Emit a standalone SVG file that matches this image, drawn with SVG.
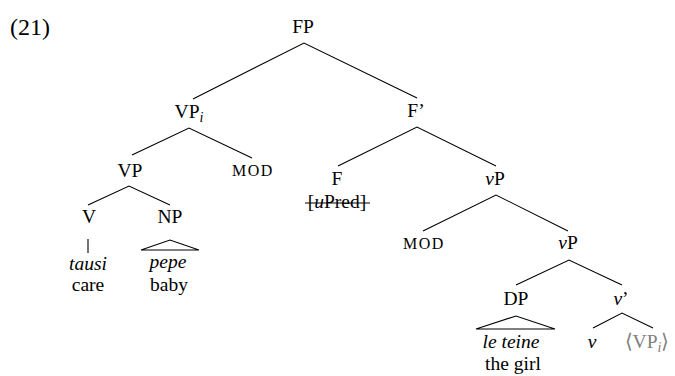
<svg xmlns="http://www.w3.org/2000/svg" width="675" height="376" viewBox="0 0 675 376">
  <style>
    text { font-family: "Liberation Serif", "Times New Roman", serif; font-size: 19.5px; fill: #000; text-anchor: middle; }
    .it { font-style: italic; }
    .sub { font-size: 14px; font-style: italic; }
    .sc { font-size: 16px; letter-spacing: 1.5px; }
    .trace { fill: #808080; }
    .edge { stroke: #000; stroke-width: 1.1; fill: none; }
  </style>

  <text x="10" y="35" style="text-anchor:start;font-size:24px">(21)</text>

  <!-- branches -->
  <g id="edges">
    <path class="edge" d="M193,99 L304,43 L417,98"/>
    <path class="edge" d="M132,155 L189,128 L252,158"/>
    <path class="edge" d="M338,166 L417,127 L496,166"/>
    <path class="edge" d="M88,205 L129,186 L170,205"/>
    <path class="edge" d="M423,231 L496,195 L568,231"/>
    <path class="edge" d="M88,239 L88,253"/>
    <path class="edge" d="M141,250 L170,240 L199,250 Z"/>
    <path class="edge" d="M516,285 L569,260 L622,285"/>
    <path class="edge" d="M476,329 L516,316 L555,329 Z"/>
    <path class="edge" d="M593,328 L622,313 L653,328"/>
  </g>

  <g id="FP"><text x="303" y="33">FP</text></g>
  <g id="VPi"><text x="189" y="118">VP<tspan class="sub" dy="4">i</tspan></text></g>
  <g id="Fbar"><text x="416" y="117">F’</text></g>
  <g id="VP"><text x="130" y="177">VP</text></g>
  <g id="MOD1"><text class="sc" x="253" y="176">MOD</text></g>
  <g id="F">
    <text x="337" y="185">F</text>
    <text x="337" y="208">[<tspan class="it">u</tspan>Pred]</text>
    <line class="edge" x1="305" y1="203" x2="370" y2="203"/>
  </g>
  <g id="vP1"><text x="495" y="185"><tspan class="it">v</tspan>P</text></g>
  <g id="V">
    <text x="89" y="223">V</text>
    <text class="it" x="88" y="270">tausi</text>
    <text x="88" y="291">care</text>
  </g>
  <g id="NP">
    <text x="170" y="223">NP</text>
    <text class="it" x="168" y="268">pepe</text>
    <text x="169" y="291">baby</text>
  </g>
  <g id="MOD2"><text class="sc" x="424" y="249">MOD</text></g>
  <g id="vP2"><text x="568" y="249"><tspan class="it">v</tspan>P</text></g>
  <g id="DP">
    <text x="516" y="305">DP</text>
    <text class="it" x="511" y="348">le teine</text>
    <text x="513" y="370">the girl</text>
  </g>
  <g id="vbar"><text x="621" y="305"><tspan class="it">v</tspan>’</text></g>
  <g id="v"><text class="it" x="592" y="348">v</text></g>
  <g id="VPtrace"><text class="trace" x="647" y="348">⟨VP<tspan class="sub" dy="4">i</tspan><tspan dy="-4">⟩</tspan></text></g>
</svg>
